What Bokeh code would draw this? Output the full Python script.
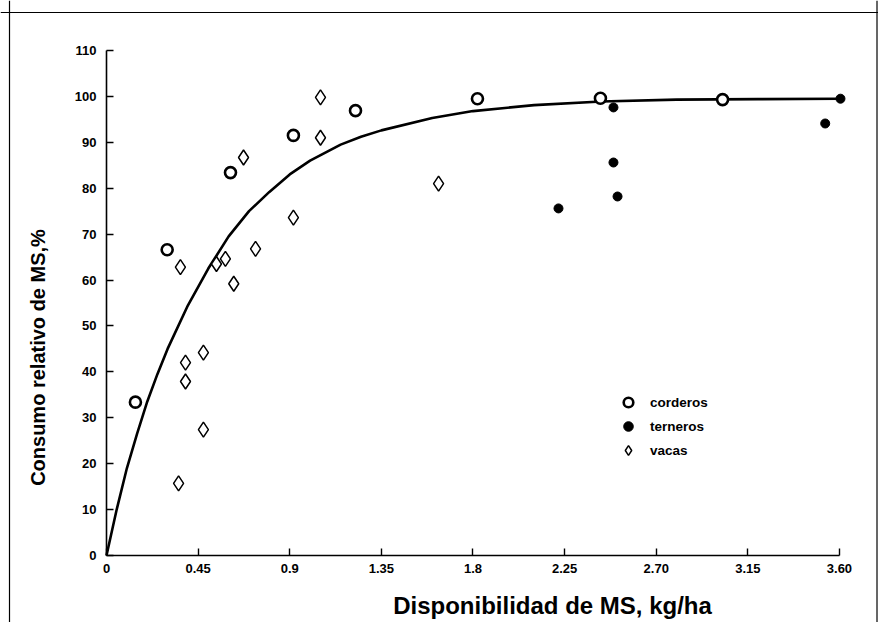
from bokeh.plotting import figure
from bokeh.models import (Range1d, LinearAxis, FixedTicker, Label, Legend,
                          LegendItem, Span)
from bokeh.embed import file_html
from bokeh.resources import INLINE

# ---------------- data ----------------
x_ticks = [0, 0.45, 0.9, 1.35, 1.8, 2.25, 2.7, 3.15, 3.6]
x_tick_labels = ["0", "0.45", "0.9", "1.35", "1.8", "2.25", "2.70", "3.15", "3.60"]
y_ticks = [0, 10, 20, 30, 40, 50, 60, 70, 80, 90, 100, 110]
y_tick_labels = ["0", "10", "20", "30", "40", "50", "60", "70", "80", "90", "100", "110"]

corderos_x = [0.142, 0.298, 0.609, 0.918, 1.223, 1.822, 2.426, 3.026]
corderos_y = [33.4, 66.6, 83.4, 91.5, 96.9, 99.5, 99.6, 99.3]

terneros_x = [2.22, 2.49, 2.49, 2.51, 3.53, 3.605]
terneros_y = [75.6, 97.6, 85.6, 78.2, 94.1, 99.5]

vacas_x = [0.354, 0.476, 0.388, 0.388, 0.476, 0.625, 0.363, 0.54, 0.584,
           0.732, 0.673, 0.918, 1.051, 1.051, 1.631]
vacas_y = [15.7, 27.4, 37.9, 42.0, 44.2, 59.2, 62.8, 63.5, 64.6,
           66.8, 86.7, 73.6, 91.0, 99.8, 81.0]

curve_x = [0, 0.05, 0.1, 0.15, 0.2, 0.25, 0.3, 0.4, 0.5, 0.6, 0.7, 0.8,
           0.9, 1.0, 1.15, 1.25, 1.35, 1.6, 1.8, 2.1, 2.43, 2.8, 3.2, 3.6]
curve_y = [0, 10, 19, 26.5, 33.5, 39.5, 45, 54.5, 62.5, 69.5, 75, 79.2,
           83, 86, 89.5, 91.2, 92.6, 95.3, 96.8, 98.1, 98.9, 99.3, 99.4, 99.5]

series_labels = ["corderos", "terneros", "vacas"]
x_title = "Disponibilidad de MS, kg/ha"
y_title = "Consumo relativo de MS,%"

# ---------------- figure ----------------
FONT = "Liberation Sans"

p = figure(width=878, height=622, output_backend="svg", toolbar_location=None,
           x_range=Range1d(-0.52063, 3.79175), y_range=Range1d(-14.594, 120.889),
           x_axis_type=None, y_axis_type=None,
           min_border_left=0, min_border_right=0, min_border_top=0,
           min_border_bottom=0)
p.grid.visible = False
p.outline_line_color = None
p.background_fill_color = "white"
p.border_fill_color = "white"

# outer frame of the scanned figure (left, right, top)
for loc, dim in [(-0.4764, "height"), (3.7844, "height"), (118.275, "width")]:
    p.add_layout(Span(location=loc, dimension=dim, line_color="black",
                      line_width=1.2))

def style_axis(ax):
    ax.axis_line_color = "black"
    ax.axis_line_width = 1.6
    ax.major_tick_line_color = "black"
    ax.major_tick_line_width = 1.4
    ax.major_tick_in = 7
    ax.major_tick_out = 0
    ax.minor_tick_line_color = None
    ax.major_label_text_font = FONT
    ax.major_label_text_font_style = "bold"
    ax.major_label_text_font_size = "13px"
    ax.major_label_text_color = "black"

xaxis = LinearAxis(ticker=FixedTicker(ticks=x_ticks),
                   major_label_overrides=dict(zip(x_ticks, x_tick_labels)),
                   fixed_location=0, bounds=(x_ticks[0], x_ticks[-1]))
style_axis(xaxis)
xaxis.major_label_standoff = 9
p.add_layout(xaxis, "below")

yaxis = LinearAxis(ticker=FixedTicker(ticks=y_ticks),
                   major_label_overrides=dict(zip(y_ticks, y_tick_labels)),
                   fixed_location=0, bounds=(y_ticks[0], y_ticks[-1]))
style_axis(yaxis)
yaxis.major_label_standoff = 10
p.add_layout(yaxis, "left")

# fitted curve
p.line(curve_x, curve_y, line_color="black", line_width=2.6)

r_c = p.scatter(corderos_x, corderos_y, marker="circle", size=11,
                fill_color="white", line_color="black", line_width=2.6)
r_t = p.scatter(terneros_x, terneros_y, marker="circle", size=9,
                fill_color="black", line_color="black", line_width=1)
r_v = p.scatter(vacas_x, vacas_y, marker="diamond", size=15,
                fill_color="white", line_color="black", line_width=1.5)

legend = Legend(items=[LegendItem(label=series_labels[0], renderers=[r_c]),
                       LegendItem(label=series_labels[1], renderers=[r_t]),
                       LegendItem(label=series_labels[2], renderers=[r_v])],
                location=(616, 160), orientation="vertical",
                glyph_width=24, glyph_height=24, label_height=24, spacing=0,
                padding=0, margin=0, label_standoff=10,
                border_line_color=None, background_fill_alpha=0,
                label_text_font=FONT, label_text_font_style="bold",
                label_text_font_size="13.5px", label_text_color="black")
p.add_layout(legend)

# axis titles
p.add_layout(Label(x=2.1906, y=-10.9, text=x_title, text_align="center",
                   text_baseline="alphabetic", text_font=FONT,
                   text_font_style="bold", text_font_size="24px",
                   text_color="black"))
p.add_layout(Label(x=-0.334, y=43.13, text=y_title, angle=1.5708,
                   text_align="center", text_baseline="middle", text_font=FONT,
                   text_font_style="bold", text_font_size="20px",
                   text_color="black"))

open("out.html", "w").write(file_html(p, INLINE))
